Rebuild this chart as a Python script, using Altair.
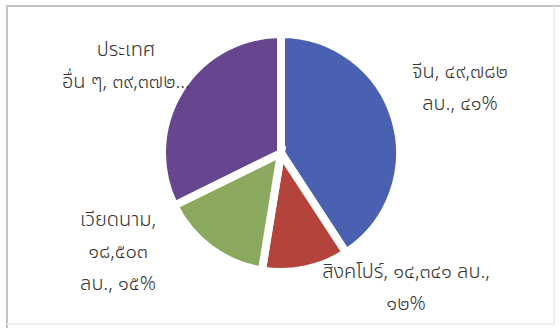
import altair as alt
import pandas as pd

categories = ["จีน", "สิงคโปร์", "เวียดนาม", "ประเทศอื่น ๆ"]
values = [49782, 14341, 18503, 39372]
colors = ["#4a60b0", "#b3433b", "#8aa95e", "#68458f"]
labels = [
    "จีน, ๔๙,๗๘๒\nลบ., ๔๑%",
    "สิงคโปร์, ๑๔,๓๔๑ ลบ.,\n๑๒%",
    "เวียดนาม,\n๑๘,๕๐๓\nลบ., ๑๕%",
    "ประเทศ\nอื่น ๆ, ๓๙,๓๗๒...",
]

df = pd.DataFrame({
    "country": categories,
    "value": values,
    "order": list(range(len(categories))),
    "label": labels,
})

FONT = "Noto Sans Thai, Noto Sans, DejaVu Sans, sans-serif"

base = alt.Chart(df)

pie = base.mark_arc(outerRadius=119, stroke="white", strokeWidth=8, strokeJoin="miter").encode(
    theta=alt.Theta("value:Q", stack=True),
    order=alt.Order("order:Q"),
    color=alt.Color("country:N", sort=categories,
                    scale=alt.Scale(domain=categories, range=colors), legend=None),
    x=alt.value(281),
    y=alt.value(153),
)

left = base.mark_rule(stroke="#c4c4c4", strokeWidth=2).encode(
    x=alt.value(7), y=alt.value(5), y2=alt.value(328))
top = base.mark_rule(stroke="#c4c4c4", strokeWidth=2).encode(
    x=alt.value(6), x2=alt.value(560), y=alt.value(6))
right = base.mark_rule(stroke="#ececec", strokeWidth=1).encode(
    x=alt.value(554), y=alt.value(6), y2=alt.value(324))
bottom = base.mark_rule(stroke="#ececec", strokeWidth=1).encode(
    x=alt.value(7), x2=alt.value(554), y=alt.value(324))

label_pos = {
    "จีน": (460, 72),
    "สิงคโปร์": (406, 272),
    "เวียดนาม": (118, 220),
    "ประเทศอื่น ๆ": (126, 50),
}

texts = []
for c in categories:
    px, py = label_pos[c]
    t = base.transform_filter(alt.datum.country == c).mark_text(
        font=FONT, fontSize=20, fontWeight=300, color="#333333", lineBreak="\n",
        lineHeight=32, align="center", baseline="middle",
    ).encode(text="label:N", x=alt.value(px), y=alt.value(py))
    texts.append(t)

chart = alt.layer(left, top, right, bottom, pie, *texts).properties(
    width=560, height=328, padding=0, autosize="none", background="white"
).configure_view(stroke=None)

chart.save("out.html", embed_options={"renderer": "svg", "actions": False})
